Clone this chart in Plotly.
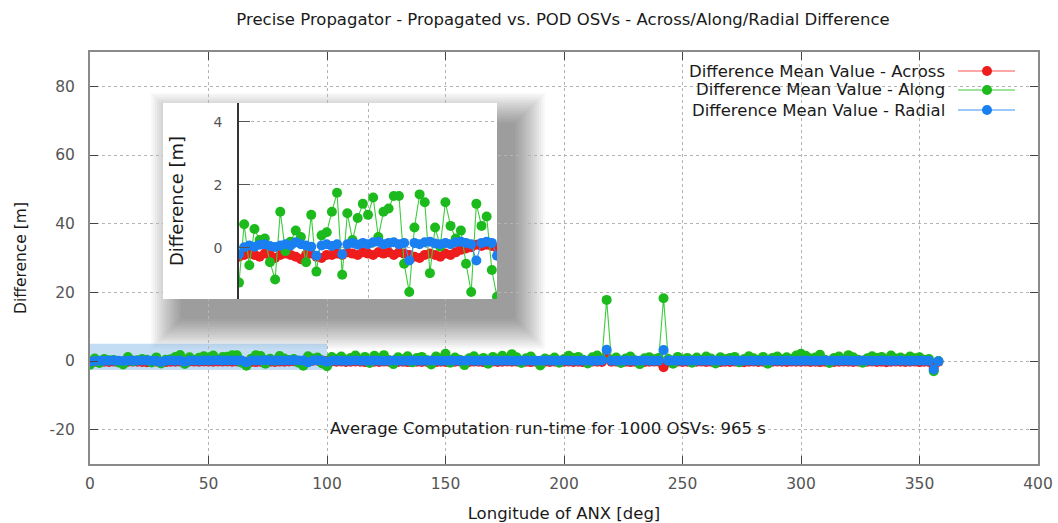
import plotly.graph_objects as go

# ---------------- data ----------------
longitude = [
    0, 2, 4, 6, 8, 10, 12, 14, 16, 18, 20, 22, 24, 26, 28, 30, 32, 34, 36, 38,
    40, 42, 44, 46, 48, 50, 52, 54, 56, 58, 60, 62, 64, 66, 68, 70, 72, 74, 76, 78,
    80, 82, 84, 86, 88, 90, 92, 94, 96, 98, 100, 102, 104, 106, 108, 110, 112, 114, 116, 118,
    120, 122, 124, 126, 128, 130, 132, 134, 136, 138, 140, 142, 144, 146, 148, 150, 152, 154, 156, 158,
    160, 162, 164, 166, 168, 170, 172, 174, 176, 178, 180, 182, 184, 186, 188, 190, 192, 194, 196, 198,
    200, 202, 204, 206, 208, 210, 212, 214, 216, 218, 220, 222, 224, 226, 228, 230, 232, 234, 236, 238,
    240, 242, 244, 246, 248, 250, 252, 254, 256, 258, 260, 262, 264, 266, 268, 270, 272, 274, 276, 278,
    280, 282, 284, 286, 288, 290, 292, 294, 296, 298, 300, 302, 304, 306, 308, 310, 312, 314, 316, 318,
    320, 322, 324, 326, 328, 330, 332, 334, 336, 338, 340, 342, 344, 346, 348, 350, 352, 354, 356, 358,
]

diff_across = [
    -0.28, -0.22, -0.18, -0.22, -0.28, -0.18, -0.22, -0.32, -0.22, -0.18,
    -0.22, -0.28, -0.36, -0.22, -0.18, -0.28, -0.32, -0.22, -0.22, -0.18,
    -0.22, -0.14, -0.18, -0.22, -0.14, -0.18, -0.22, -0.14, -0.18, -0.14,
    -0.22, -0.14, -0.18, -0.22, -0.28, -0.32, -0.22, -0.18, -0.22, -0.28,
    -0.18, -0.22, -0.14, -0.06, -0.02, 0.02, 0.10, 0.06, 0.10, 0.06,
    0.00, -0.14, -0.22, -0.18, -0.28, -0.22, -0.14, -0.22, -0.32, -0.18,
    -0.22, -0.28, -0.18, -0.22, -0.14, -0.28, -0.22, -0.32, -0.18, -0.22,
    -0.28, -0.22, -0.18, -0.32, -0.22, -0.28, -0.18, -0.22, -0.14, -0.22,
    -0.28, -0.18, -0.22, -0.32, -0.22, -0.18, -0.28, -0.22, -0.14, -0.22,
    -0.18, -0.28, -0.22, -0.32, -0.22, -0.18, -0.22, -0.28, -0.18, -0.22,
    -0.22, -0.18, -0.28, -0.22, -0.32, -0.22, -0.18, -0.22, -0.28, 1.10,
    -0.22, -0.18, -0.28, -0.22, -0.32, -0.22, -0.18, -0.28, -0.22, -0.18,
    -0.22, -1.80, -0.28, -0.22, -0.18, -0.28, -0.22, -0.32, -0.22, -0.18,
    -0.28, -0.22, -0.18, -0.32, -0.22, -0.28, -0.18, -0.22, -0.38, -0.22,
    -0.18, -0.28, -0.22, -0.32, -0.22, -0.18, -0.22, -0.28, -0.18, -0.22,
    -0.22, -0.18, -0.28, -0.22, -0.32, -0.22, -0.18, -0.28, -0.22, -0.18,
    -0.22, -0.28, -0.18, -0.32, -0.22, -0.18, -0.28, -0.22, -0.38, -0.22,
    -0.18, -0.22, -0.28, -0.22, -0.18, -0.32, -0.22, -0.28, -2.00, -0.20,
]

diff_along = [
    -1.10, 0.75, -0.55, 0.60, 0.25, 0.30, -0.45, -1.00, 1.15, -0.10,
    0.20, 0.55, 0.35, -0.45, 1.05, -0.75, 0.40, 0.50, 1.15, 1.75,
    -0.85, 1.10, 0.25, 0.95, 1.40, 1.05, 1.60, 0.35, 1.15, 1.25,
    1.65, 1.65, -0.50, -1.40, 0.65, 1.70, 1.45, -0.80, 0.65, 0.05,
    1.45, 0.70, 0.30, 0.55, -0.50, -1.40, 1.40, 0.70, 1.00, -0.70,
    -1.55, 1.15, 0.60, 1.30, 0.20, 0.90, 1.60, 0.40, 1.20, -0.60,
    1.50, 0.80, 1.70, 0.30, -0.90, 1.10, 0.50, 1.40, -0.40, 0.90,
    1.20, 0.30, -1.00, 1.30, 0.70, 2.10, -0.50, 1.00, 0.40, -1.20,
    0.80, 1.40, 0.20, 0.90, -0.80, 1.20, 0.60, 1.50, 0.30, 2.00,
    1.10, -0.60, 0.80, 1.30, 0.10, -1.30, 0.70, 0.40, 1.00, -0.50,
    0.60, 1.50, 0.90, 1.20, 0.40, -0.70, 1.10, 1.60, 0.50, 17.80,
    0.30, 1.00, -0.60, 0.70, 1.30, 0.20, -0.90, 0.80, 1.10, 0.50,
    0.90, 18.30, 0.60, -0.80, 1.20, 0.40, 0.90, -0.50, 1.00, 0.30,
    1.30, 0.70, -0.70, 1.10, 0.50, 0.90, 1.20, -0.40, 0.60, 1.40,
    0.80, 0.30, 1.20, -0.80, 0.90, 1.30, 0.50, 1.10, 0.60, 1.60,
    2.10, 1.50, 0.70, 1.00, 1.80, 0.40, -0.60, 0.90, 1.30, 0.50,
    1.70, 1.10, 0.40, -0.50, 0.80, 1.40, 0.90, 1.20, 0.30, 1.60,
    0.70, 1.00, 0.50, 1.30, 0.80, 1.10, 0.40, 0.60, -3.00, 0.00,
]

diff_radial = [
    -0.20, 0.02, 0.08, 0.04, 0.10, 0.12, 0.06, 0.03, 0.08, 0.12,
    0.08, 0.18, 0.12, 0.08, 0.04, -0.25, 0.08, 0.12, 0.06, 0.12,
    -0.20, 0.12, 0.16, 0.10, 0.16, 0.12, 0.18, 0.20, 0.12, 0.16,
    0.18, 0.12, 0.16, -0.40, 0.16, 0.12, 0.18, 0.20, 0.14, 0.12,
    0.16, 0.12, 0.18, 0.20, 0.16, 0.12, -0.40, 0.16, 0.20, 0.16,
    -0.25, 0.08, 0.12, 0.06, 0.04, 0.10, 0.14, 0.08, 0.04, 0.10,
    0.12, 0.06, 0.04, 0.10, 0.14, 0.08, 0.04, 0.08, 0.12, 0.10,
    0.04, 0.08, 0.14, 0.10, 0.04, 0.06, 0.12, 0.08, 0.05, 0.10,
    0.12, 0.08, 0.04, 0.10, 0.14, 0.08, 0.05, 0.08, 0.12, 0.06,
    0.04, 0.10, 0.12, 0.08, 0.04, 0.06, 0.12, 0.10, 0.04, 0.08,
    0.12, 0.08, 0.05, 0.10, 0.12, 0.06, 0.04, 0.08, 0.14, 3.30,
    0.08, 0.04, 0.10, 0.12, 0.06, 0.04, 0.08, 0.13, 0.10, 0.04,
    0.08, 3.20, 0.10, 0.12, 0.06, 0.04, 0.08, 0.12, 0.10, 0.05,
    0.08, 0.12, 0.10, 0.04, 0.08, 0.14, 0.08, 0.04, 0.10, 0.12,
    0.08, 0.04, 0.10, 0.12, 0.08, 0.05, 0.08, 0.12, 0.10, 0.04,
    0.08, 0.12, 0.10, 0.04, 0.08, 0.14, 0.08, 0.05, 0.10, 0.12,
    0.08, 0.04, 0.10, 0.12, 0.06, 0.04, 0.08, 0.13, 0.10, 0.04,
    0.08, 0.12, 0.10, 0.04, 0.08, 0.12, 0.08, 0.04, -2.50, -0.10,
]

series_names = ["Difference Mean Value - Across",
                "Difference Mean Value - Along",
                "Difference Mean Value - Radial"]
series_values = [diff_across, diff_along, diff_radial]
marker_colors = ["#ee1c1c", "#1cba1c", "#1a7ff0"]
line_colors = ["#ff5050", "#3ccc3c", "#3a93f8"]

x_ticks = [0, 50, 100, 150, 200, 250, 300, 350, 400]
y_ticks = [-20, 0, 20, 40, 60, 80]
y_tick_text = ["-20", "0", "20", "40", "60", "80"]
inset_y_ticks = [0, 2, 4]

title_text = "Precise Propagator - Propagated vs. POD OSVs - Across/Along/Radial Difference"
note_text = "Average Computation run-time for 1000 OSVs: 965 s"

# ---------------- layout helpers ----------------
W, H = 1058, 523
PL, PR, PT, PB = 90, 1038, 52, 464  # plot area in px


def px_x(p):
    return (p - PL) / (PR - PL)


def px_y(p):
    return (PB - p) / (PB - PT)


FONT = "DejaVu Sans"
GRID = "#b4b4b4"
TXT = "#1a1a1a"

fig = go.Figure()

# main traces
for name, vals, mc, lc in zip(series_names, series_values, marker_colors, line_colors):
    fig.add_trace(go.Scatter(
        x=longitude, y=vals, name=name, mode="lines+markers",
        line=dict(color=lc, width=1.1),
        marker=dict(color=mc, size=10, line=dict(width=0)),
        xaxis="x", yaxis="y", showlegend=False))

# holder subplot for the inset's white card
fig.add_trace(go.Scatter(x=[], y=[], xaxis="x2", yaxis="y2", showlegend=False))

# inset traces
for name, vals, mc, lc in zip(series_names, series_values, marker_colors, line_colors):
    fig.add_trace(go.Scatter(
        x=longitude, y=vals, name=name, mode="lines+markers",
        line=dict(color=lc, width=1.1),
        marker=dict(color=mc, size=10, line=dict(width=0)),
        xaxis="x3", yaxis="y3", showlegend=False))

shapes = []
# highlighted zoom region in the main chart
shapes.append(dict(type="rect", xref="x", yref="y", x0=0, x1=100, y0=-2.6, y1=5,
                   fillcolor="rgba(120,180,230,0.45)", line=dict(width=0), layer="below"))

# inset drop shadow (layered translucent rects)
card = (163, 497, 103, 299)
dx, dy = 18, 20
for i in range(16):
    e = 2 * i
    shapes.append(dict(type="rect", xref="paper", yref="paper",
                       x0=px_x(card[0] + dx - e), x1=px_x(card[1] + dx + e),
                       y0=px_y(card[3] + dy + e), y1=px_y(card[2] + dy - e),
                       fillcolor="rgba(0,0,0,0.028)", line=dict(width=0), layer="below"))
# white card of the inset
shapes.append(dict(type="rect", xref="x2", yref="y2", x0=0, x1=1, y0=0, y1=1,
                   fillcolor="white", line=dict(width=0), layer="below"))

# custom legend (symbols on the right of the text)
legend_rows = [71, 90, 110]
annotations = []
for name, mc, lc, py in zip(series_names, marker_colors, line_colors, legend_rows):
    annotations.append(dict(xref="paper", yref="paper", x=px_x(947), y=px_y(py),
                            xanchor="right", yanchor="middle", showarrow=False,
                            text=name, font=dict(family=FONT, size=16.5, color=TXT)))
    shapes.append(dict(type="line", xref="paper", yref="paper",
                       x0=px_x(958), x1=px_x(1015), y0=px_y(py), y1=px_y(py),
                       line=dict(color=lc, width=1.2), layer="above"))
    shapes.append(dict(type="circle", xref="paper", yref="paper",
                       x0=px_x(987 - 5), x1=px_x(987 + 5), y0=px_y(py + 5), y1=px_y(py - 5),
                       fillcolor=mc, line=dict(width=0), layer="above"))

annotations.append(dict(xref="paper", yref="paper", x=px_x(548), y=px_y(428),
                        xanchor="center", yanchor="middle", showarrow=False,
                        text=note_text, font=dict(family=FONT, size=16.5, color=TXT)))

axis_common = dict(showgrid=True, gridcolor=GRID, griddash="dot", gridwidth=1,
                   zeroline=False, ticks="inside", ticklen=8, tickcolor="#444",
                   showline=True, linecolor="#8a8a8a", linewidth=2, mirror="ticks",
                   automargin=False,
                   tickfont=dict(family=FONT, size=15.5, color="#555"))

fig.update_layout(
    width=W, height=H,
    margin=dict(l=PL, r=W - PR, t=PT, b=H - PB, autoexpand=False),
    paper_bgcolor="white", plot_bgcolor="white",
    font=dict(family=FONT, color=TXT),
    title=dict(text=title_text, x=563 / W, xanchor="center",
               y=1 - 19 / H, yanchor="middle", yref="container",
               font=dict(family=FONT, size=16.5, color=TXT)),
    xaxis=dict(axis_common, range=[0, 400], tickvals=x_ticks, ticklabelstandoff=4,
               title=dict(text="Longitude of ANX [deg]", standoff=18,
                          font=dict(family=FONT, size=16.5, color=TXT))),
    yaxis=dict(axis_common, range=[-30, 90], tickvals=y_ticks, ticktext=y_tick_text,
               ticklabelstandoff=10,
               title=dict(text="Difference [m]", standoff=19,
                          font=dict(family=FONT, size=15.5, color=TXT))),
    xaxis2=dict(domain=[px_x(card[0]), px_x(card[1])], range=[0, 1], visible=False,
                anchor="y2", fixedrange=True, automargin=False),
    yaxis2=dict(domain=[px_y(card[3]), px_y(card[2])], range=[0, 1], visible=False,
                anchor="x2", fixedrange=True, automargin=False),
    xaxis3=dict(domain=[px_x(239), px_x(497)], range=[0, 100], anchor="y3",
                showticklabels=False, ticks="", showline=False, zeroline=False,
                showgrid=True, gridcolor=GRID, griddash="dot", dtick=50, automargin=False),
    yaxis3=dict(domain=[px_y(299), px_y(103)], range=[-1.62, 4.6], anchor="x3",
                tickvals=inset_y_ticks, ticks="inside", ticklen=11, tickcolor="#555",
                showline=True, linecolor="#333", linewidth=1.5, zeroline=False,
                showgrid=True, gridcolor=GRID, griddash="dot", ticklabelstandoff=12,
                automargin=False,
                tickfont=dict(family=FONT, size=14, color="#555"),
                title=dict(text="Difference [m]", standoff=25,
                           font=dict(family=FONT, size=18, color=TXT))),
    shapes=shapes,
    annotations=annotations,
)

fig.write_html("out.html")
